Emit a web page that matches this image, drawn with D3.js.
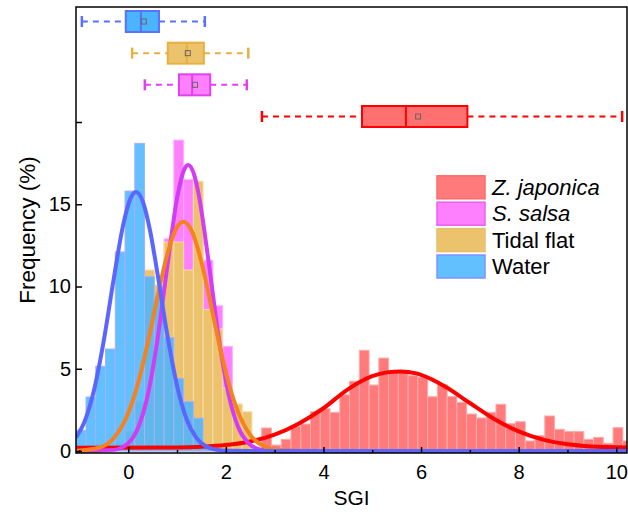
<!DOCTYPE html>
<html>
<head>
<meta charset="utf-8">
<script src="https://cdn.jsdelivr.net/npm/d3@7"></script>
<style>
  body { margin: 0; background: #fff; }
  svg { display: block; font-family: "Liberation Sans", Arial, sans-serif; }
</style>
</head>
<body>
<div id="chart"></div>
<script>
// ---- values ----
const categories = ["Z. japonica", "S. salsa", "Tidal flat", "Water"];
const binWidth = 0.2;
const firstBin = [2.735, -0.065, -0.265, -1.065];

// histogram frequencies (%) per bin, starting at firstBin
const zjFreq = [1.40, 0.36, 0.71, 1.50, 1.64, 2.39, 2.57, 2.35, 3.42, 4.24,
                6.12, 4.01, 5.65, 4.78, 4.80, 4.58, 4.48, 3.30, 4.03, 3.32,
                2.96, 2.25, 2.01, 2.35, 2.84, 1.66, 1.78, 0.61, 0.93, 2.13,
                1.32, 1.18, 1.18, 0.71, 0.83, 0.47, 1.42, 0.61];
const ssFreq = [0.5, 1.5, 2.5, 5.5, 12.9, 18.9, 16.5, 13.0, 11.6, 8.83, 6.36, 2.0, 0.6];
const tfFreq = [0.5, 1.2, 3.0, 11.0, 10.1, 12.7, 12.7, 11.0, 16.4, 8.6, 7.42, 3.83, 2.86, 2.39];
const waFreq = [1.26, 3.28, 5.15, 6.2, 12.1, 15.8, 18.7, 10.6, 9.4, 6.9, 4.4, 3.0, 2.0, 0.3];

// fitted distribution curves, [SGI, frequency]
const zjFit = [[-1.07, 0.2], [1.0, 0.22], [1.5, 0.26], [2.0, 0.36], [2.5, 0.58], [3.0, 1.0],
               [3.5, 1.68], [4.0, 2.6], [4.5, 3.75], [5.0, 4.55], [5.3, 4.78], [5.58, 4.84],
               [5.9, 4.72], [6.0, 4.63], [6.5, 3.91], [7.0, 2.92], [7.5, 1.95], [8.0, 1.19],
               [8.5, 0.69], [9.0, 0.41], [9.5, 0.28], [10.22, 0.215]];
const ssFit = [[-1.07, 0], [-0.3, 0.07], [0, 0.48], [0.2, 1.40], [0.4, 3.39], [0.6, 6.78],
               [0.8, 11.21], [1.0, 15.34], [1.12, 16.9], [1.23, 17.39], [1.35, 16.8],
               [1.45, 15.5], [1.65, 11.44], [1.85, 6.99], [2.05, 3.53], [2.25, 1.47],
               [2.45, 0.51], [2.7, 0.10], [3.0, 0.01], [3.5, 0], [10.22, 0]];
const tfFit = [[-1.07, 0.015], [-0.6, 0.20], [-0.3, 0.78], [0, 2.30], [0.2, 4.11], [0.4, 6.57],
               [0.6, 9.37], [0.8, 11.95], [1.0, 13.61], [1.13, 13.94], [1.3, 13.38],
               [1.5, 11.49], [1.7, 8.81], [1.9, 6.03], [2.1, 3.69], [2.3, 2.02], [2.5, 0.98],
               [2.75, 0.34], [3.1, 0.06], [3.6, 0], [10.22, 0]];
const waFit = [[-1.07, 0.82], [-0.9, 1.75], [-0.7, 3.71], [-0.5, 6.72], [-0.3, 10.41],
               [-0.1, 13.79], [0.05, 15.37], [0.16, 15.74], [0.3, 15.15], [0.45, 13.36],
               [0.6, 10.78], [0.8, 7.07], [1.0, 3.97], [1.2, 1.9], [1.4, 0.78], [1.6, 0.27],
               [1.8, 0.08], [2.1, 0.01], [2.5, 0], [10.22, 0]];

// box plot statistics (SGI)
const boxMin  = [2.74, 0.34, 0.08, -0.95];
const boxQ1   = [4.79, 1.04, 0.81, -0.05];
const boxMed  = [5.69, 1.31, 1.20, 0.26];
const boxMean = [5.94, 1.37, 1.22, 0.32];
const boxQ3   = [6.95, 1.68, 1.55, 0.63];
const boxMax  = [10.12, 2.43, 2.46, 1.57];

const xTicks = [0, 2, 4, 6, 8, 10];
const xMinorTicks = [-1, 1, 3, 5, 7, 9];
const yTicks = [0, 5, 10, 15];

// ---- styles ----
const barFill   = ["#ff7a7a", "#ff80ff", "#ecc36c", "#48b5ff"];
const barStroke = ["#ffaaaa", "#ffb0ff", "#f7dcae", "#a8aeff"];
const barAlpha  = [1, 1, 1, 0.85];
const lineColor = ["#ff0000", "#d23cf5", "#f5821f", "#5a66ff"];
const boxFill   = ["#ff7070", "#ff80ff", "#ecc36c", "#4ab4ff"];
const boxStroke = ["#ff0000", "#e040f0", "#e8b040", "#5a70ff"];
const swatchStroke = ["#ff6a6a", "#e860f0", "#e6bf70", "#8090ff"];

const width = 628, height = 514;
const plotLeft = 76, plotRight = 627, plotTop = 7, plotBottom = 453;

const svg = d3.select("#chart").append("svg")
    .attr("width", width)
    .attr("height", height);

const x = d3.scaleLinear().domain([-1.07, 10.22]).range([plotLeft, plotRight]);
const y = d3.scaleLinear().domain([-0.12, 26.99]).range([plotBottom, plotTop]);
const row = d3.scalePoint()
    .domain(["Water", "Tidal flat", "S. salsa", "Z. japonica"])
    .range([21.5, 116.5]);

svg.append("clipPath").attr("id", "plot")
    .append("rect")
    .attr("x", plotLeft).attr("y", plotTop)
    .attr("width", plotRight - plotLeft).attr("height", plotBottom - plotTop);

const freqs = [zjFreq, ssFreq, tfFreq, waFreq];
const fits = [zjFit, ssFit, tfFit, waFit];

// histogram bars, red first so water ends up on top
const bars = svg.append("g").attr("clip-path", "url(#plot)");
freqs.forEach((freq, i) => {
    const bins = freq.map((v, j) => ({ x0: firstBin[i] + j * binWidth, v: v }));
    bars.append("g")
        .attr("fill", barFill[i])
        .attr("fill-opacity", barAlpha[i])
        .attr("stroke", barStroke[i])
        .attr("stroke-width", 1)
      .selectAll("rect")
      .data(bins)
      .join("rect")
        .attr("x", d => x(d.x0))
        .attr("width", d => x(d.x0 + binWidth) - x(d.x0))
        .attr("y", d => y(d.v))
        .attr("height", d => y(0) - y(d.v));
});

// fitted curves
const line = d3.line()
    .x(d => x(d[0]))
    .y(d => y(d[1]))
    .curve(d3.curveMonotoneX);

const curves = svg.append("g").attr("clip-path", "url(#plot)");
fits.forEach((fit, i) => {
    curves.append("path")
        .attr("d", line(fit))
        .attr("fill", "none")
        .attr("stroke", lineColor[i])
        .attr("stroke-width", 4)
        .attr("stroke-linejoin", "round");
});

// axes, ticks pointing inward
function styleAxis(g){
    g.select(".domain").remove();
    g.selectAll(".tick line").attr("stroke", "#000").attr("stroke-width", 1.5);
    g.selectAll(".tick text").attr("fill", "#000");
    g.attr("font-size", 20).attr("font-family", null);
}

svg.append("g")
    .attr("transform", `translate(0,${plotBottom})`)
    .call(d3.axisBottom(x).tickValues(xTicks).tickSize(-6).tickPadding(12).tickSizeOuter(0))
    .call(styleAxis);

svg.append("g")
    .attr("transform", `translate(0,${plotBottom})`)
    .call(d3.axisBottom(x).tickValues(xMinorTicks).tickSize(-3).tickFormat("").tickSizeOuter(0))
    .call(styleAxis);

svg.append("g")
    .attr("transform", `translate(${plotLeft},0)`)
    .call(d3.axisLeft(y).tickValues(yTicks).tickSize(-6).tickPadding(5).tickSizeOuter(0))
    .call(styleAxis);

svg.append("g")
    .attr("transform", `translate(${plotLeft},0)`)
    .call(d3.axisLeft(y).tickValues([20]).tickSize(-6).tickFormat("").tickSizeOuter(0))
    .call(styleAxis);

svg.append("rect")
    .attr("x", plotLeft).attr("y", plotTop)
    .attr("width", plotRight - plotLeft).attr("height", plotBottom - plotTop)
    .attr("fill", "none")
    .attr("stroke", "#000")
    .attr("stroke-width", 1.5);

svg.append("text")
    .attr("x", (plotLeft + plotRight) / 2)
    .attr("y", 505)
    .attr("text-anchor", "middle")
    .attr("font-size", 21)
    .text("SGI");

svg.append("text")
    .attr("transform", `translate(35,${(plotTop + plotBottom) / 2}) rotate(-90)`)
    .attr("text-anchor", "middle")
    .attr("font-size", 22.5)
    .text("Frequency (%)");

// box plots in the upper band
const boxH = 21, capH = 11;
const boxes = svg.append("g");
categories.forEach((c, i) => {
    const cy = row(c);
    const g = boxes.append("g");

    g.append("line")
        .attr("x1", x(boxMin[i])).attr("x2", x(boxQ1[i]))
        .attr("y1", cy).attr("y2", cy);
    g.append("line")
        .attr("x1", x(boxQ3[i])).attr("x2", x(boxMax[i]))
        .attr("y1", cy).attr("y2", cy);
    g.selectAll("line")
        .attr("stroke", boxStroke[i])
        .attr("stroke-width", 2)
        .attr("stroke-dasharray", "6,5");

    [boxMin[i], boxMax[i]].forEach(v => {
        g.append("line")
            .attr("x1", x(v)).attr("x2", x(v))
            .attr("y1", cy - capH / 2).attr("y2", cy + capH / 2)
            .attr("stroke", boxStroke[i])
            .attr("stroke-width", 2.5);
    });

    g.append("rect")
        .attr("x", x(boxQ1[i]))
        .attr("y", cy - boxH / 2)
        .attr("width", x(boxQ3[i]) - x(boxQ1[i]))
        .attr("height", boxH)
        .attr("fill", boxFill[i])
        .attr("stroke", boxStroke[i])
        .attr("stroke-width", 2);

    g.append("line")
        .attr("x1", x(boxMed[i])).attr("x2", x(boxMed[i]))
        .attr("y1", cy - boxH / 2).attr("y2", cy + boxH / 2)
        .attr("stroke", boxStroke[i])
        .attr("stroke-width", 2);

    g.append("rect")
        .attr("x", x(boxMean[i]) - 2.5)
        .attr("y", cy - 2.5)
        .attr("width", 5).attr("height", 5)
        .attr("fill", "none")
        .attr("stroke", "#666")
        .attr("stroke-width", 1);
});

// legend
const legend = svg.append("g");
categories.forEach((c, i) => {
    const cy = 187.3 + i * 26.4;
    legend.append("rect")
        .attr("x", 437).attr("y", cy - 11.5)
        .attr("width", 48).attr("height", 23)
        .attr("fill", barFill[i])
        .attr("fill-opacity", barAlpha[i])
        .attr("stroke", swatchStroke[i])
        .attr("stroke-width", 1.5);
    legend.append("text")
        .attr("x", 492).attr("y", cy + 7.5)
        .attr("font-size", 22)
        .attr("font-style", i < 2 ? "italic" : null)
        .text(c);
});
</script>
</body>
</html>
